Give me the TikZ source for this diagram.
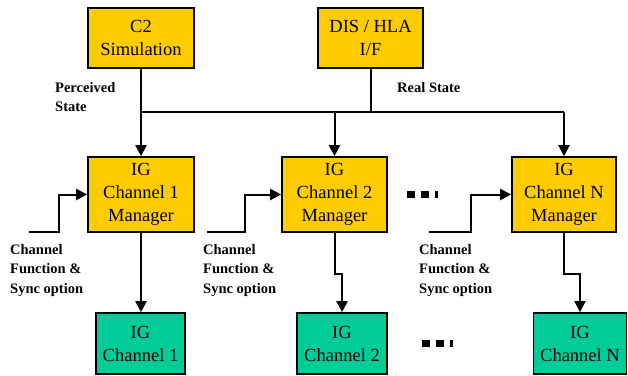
\documentclass[tikz,border=0pt]{standalone}
\usepackage{fontspec}
\setmainfont{Liberation Serif}
\usetikzlibrary{arrows.meta}
\definecolor{mgrfill}{HTML}{FFCC00}
\definecolor{chanfill}{HTML}{00CC99}
\tikzset{
  box/.style={draw=black, line width=1.6pt, align=center, inner sep=0pt,
    font=\fontsize{18.5}{23}\selectfont},
  mgr/.style={box, fill=mgrfill},
  chan/.style={box, fill=chanfill},
  wire/.style={line width=2pt},
  arr/.style={wire, -{Triangle[length=11pt,width=11pt]}},
  lbl/.style={font=\bfseries\fontsize{14.5}{19.5}\selectfont, align=left, inner sep=0pt},
  dotsnode/.style={inner sep=0pt}
}
\begin{document}
\begin{tikzpicture}[x=1pt,y=-1pt]
\useasboundingbox (0,0) rectangle (628,375);

% source boxes
\node[mgr, minimum width=106pt, minimum height=60pt] (c2) at (141,38) {C2\\Simulation};
\node[mgr, minimum width=105pt, minimum height=60pt] (dis) at (370.5,38) {DIS / HLA\\I/F};

% channel managers
\node[mgr, minimum width=106pt, minimum height=75pt] (m1) at (141,194.5) {IG\\Channel 1\\Manager};
\node[mgr, minimum width=105pt, minimum height=75pt] (m2) at (334.5,194.5) {IG\\Channel 2\\Manager};
\node[mgr, minimum width=104pt, minimum height=75pt] (mN) at (564,194.5) {IG\\Channel N\\Manager};

% image generator channels
\node[chan, minimum width=89pt, minimum height=61pt] (g1) at (140.5,343.5) {IG\\Channel 1};
\node[chan, minimum width=90pt, minimum height=61pt] (g2) at (342,343.5) {IG\\Channel 2};
\node[chan, minimum width=93pt, minimum height=61pt] (gN) at (580,343.5) {IG\\Channel N};

% state distribution bus
\coordinate (busL) at (141,112);
\coordinate (busR) at (564,112);
\draw[wire] (busL) -- (busR);
\draw[arr] (c2.south) -- (m1.north);
\draw[wire] (dis.south) -- (dis.south |- busL);
\draw[arr] (m2.north |- busL) -- (m2.north);
\draw[arr] (busR) -- (mN.north);

% manager to channel
\draw[arr] (m1.south) -- (m1.south |- g1.north);
\draw[arr] (m2.south) -- ++(0,41) -| (g2.north);
\draw[arr] (mN.south) -- ++(0,41) -| (gN.north);

% channel function inputs
\coordinate (in1) at (29,232);
\coordinate (in2) at (207,232);
\coordinate (inN) at (429,232);
\draw[arr] (in1) -- ++(30,0) |- (m1.west);
\draw[arr] (in2) -- ++(38,0) |- (m2.west);
\draw[arr] (inN) -- ++(42,0) |- (mN.west);

% labels
\node[lbl, anchor=north west] (lp) at (55,82) {Perceived\\State};
\node[lbl, anchor=west] (lr) at (397,88) {Real State};
\node[lbl, anchor=north west] (lc1) at (10,244) {Channel\\Function \&\\Sync option};
\node[lbl, anchor=north west] (lc2) at (203,244) {Channel\\Function \&\\Sync option};
\node[lbl, anchor=north west] (lcN) at (419,244) {Channel\\Function \&\\Sync option};

% ellipsis marks
\node[dotsnode, anchor=west] (d1) at (407,194)
  {\rule{8pt}{7pt}\hspace{6pt}\rule{8pt}{7pt}\hspace{6pt}\rule{2.5pt}{7pt}};
\node[dotsnode, anchor=west] (d2) at (422,343.5)
  {\rule{8pt}{7pt}\hspace{6pt}\rule{8pt}{7pt}\hspace{6pt}\rule{2.5pt}{7pt}};
\end{tikzpicture}
\end{document}
